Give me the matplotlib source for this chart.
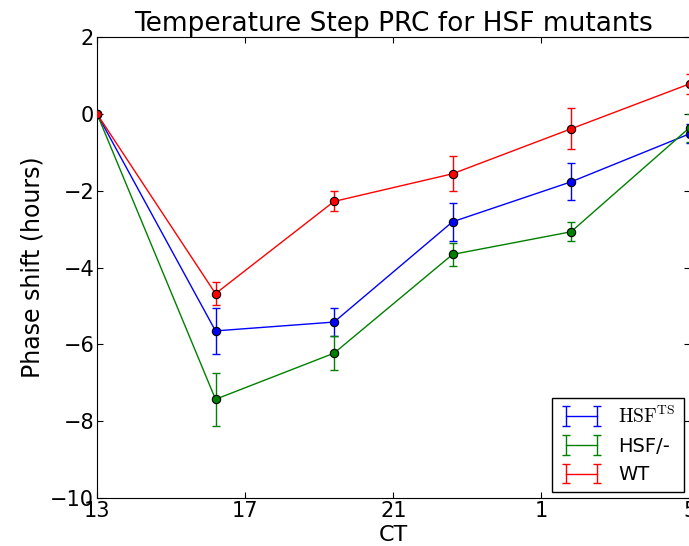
import numpy as np
import matplotlib
matplotlib.use('Agg')
import matplotlib.pyplot as plt

plt.rcParams['mathtext.fontset'] = 'cm'
plt.rcParams['xtick.direction'] = 'in'
plt.rcParams['ytick.direction'] = 'in'
plt.rcParams['xtick.top'] = True
plt.rcParams['ytick.right'] = True

ct = [13, 16.2, 19.4, 22.6, 25.8, 29]
tick_pos = [13, 17, 21, 25, 29]
tick_lab = ['13', '17', '21', '1', '5']

hsf_ts = [0, -5.65, -5.42, -2.81, -1.77, -0.52]
hsf_ts_err = [0, 0.60, 0.36, 0.50, 0.48, 0.25]
hsf_ko = [0, -7.43, -6.23, -3.66, -3.07, -0.36]
hsf_ko_err = [0, 0.69, 0.45, 0.30, 0.25, 0.36]
wt = [0, -4.68, -2.28, -1.56, -0.39, 0.78]
wt_err = [0, 0.29, 0.26, 0.45, 0.53, 0.26]

fig = plt.figure(figsize=(6.89, 5.46), dpi=100)
ax = fig.add_axes([0.1408, 0.0879, 0.860, 0.8443])

series = [(hsf_ts, hsf_ts_err, 'b', r'$\mathrm{HSF^{TS}}$'),
          (hsf_ko, hsf_ko_err, 'g', 'HSF/-'),
          (wt, wt_err, 'r', 'WT')]
for y, err, c, lab in series:
    ax.errorbar(ct, y, yerr=err, color=c, lw=1, elinewidth=1, capsize=3,
                label=lab)
for y, err, c, lab in series:
    ax.plot(ct, y, 'o', color=c, ms=6, mec='k', mew=0.8, zorder=5)

ax.set_xlim(13, 29)
ax.set_ylim(-10, 2)
ax.set_xticks(tick_pos)
ax.set_xticklabels(tick_lab)
ax.set_yticks(np.arange(-10, 3, 2))
ax.tick_params(labelsize=15, length=4, pad=2)
ax.set_xlabel('CT', fontsize=16, labelpad=3)
ax.set_ylabel('Phase shift (hours)', fontsize=17, labelpad=4)
ax.set_title('Temperature Step PRC for HSF mutants', fontsize=19, pad=3)
leg = ax.legend(loc='lower right', fontsize=14, fancybox=False, numpoints=2,
                handlelength=2.2, framealpha=1, edgecolor='k',
                borderaxespad=0.3)
leg.get_frame().set_linewidth(1)

fig.savefig('out.png', dpi=100, facecolor='white')
